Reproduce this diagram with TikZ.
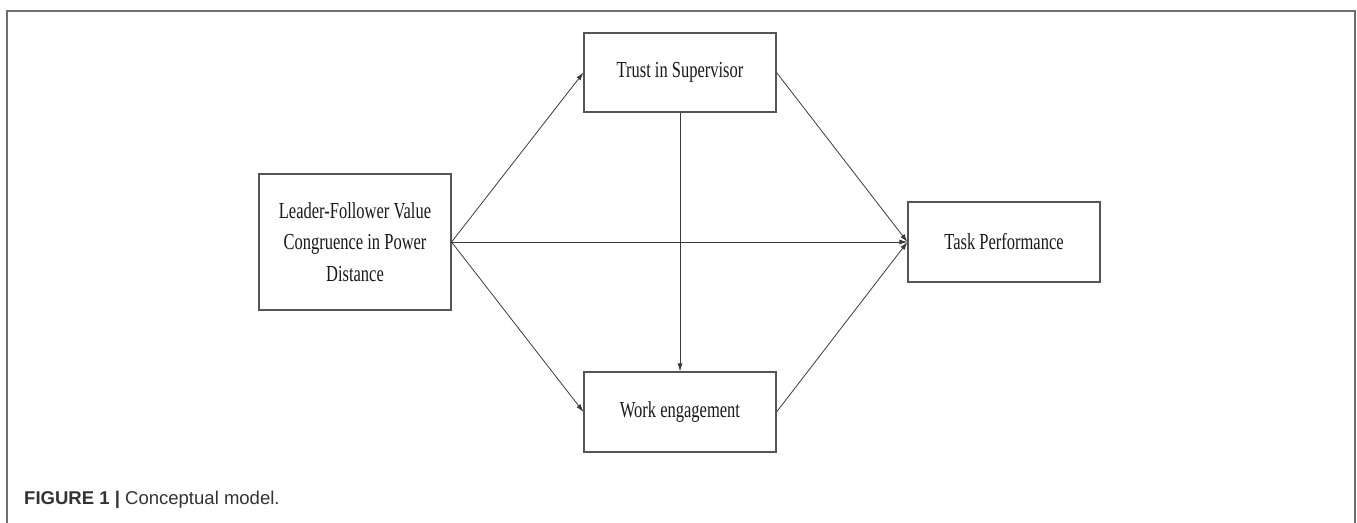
\documentclass[tikz,border=0pt]{standalone}
\usepackage{fontspec}
\setmainfont{Liberation Serif}
\newfontfamily\capfont{Liberation Sans}
\usetikzlibrary{arrows.meta}
\newcommand{\condtxt}[1]{\scalebox{0.72}[1]{#1}}
\definecolor{framegray}{HTML}{6E6E6E}
\definecolor{boxgray}{HTML}{555555}
\definecolor{linegray}{HTML}{3A3A3A}
\definecolor{captxt}{HTML}{333333}
\tikzset{
  mbox/.style={draw=boxgray, line width=1.1pt, fill=white, inner sep=2pt,
    minimum width=192bp, align=center, text=black!90, font=\fontsize{23}{31.5}\selectfont},
  conn/.style={draw=linegray, line width=0.8pt, -{Latex[length=8pt,width=5pt]}},
  outerframe/.style={draw=framegray, line width=1.6pt}
}
\begin{document}
\begin{tikzpicture}[x=1bp,y=-1bp]
\useasboundingbox (0,0) rectangle (1357,523);
\draw[outerframe] (7,523) -- (7,11) -- (1355,11) -- (1355,523);
\node[mbox, minimum height=136bp] (L) at (355,242)
  {\condtxt{Leader-Follower Value}\\\condtxt{Congruence in Power}\\\condtxt{Distance}};
\node[mbox, minimum height=79bp] (T) at (680,72.5) {\condtxt{Trust in Supervisor}};
\node[mbox, minimum height=80bp] (W) at (680,412) {\condtxt{Work engagement}};
\node[mbox, minimum height=80bp] (K) at (1004,242) {\condtxt{Task Performance}};
\draw[conn] (L.east) -- (T.west);
\draw[conn] (L.east) -- (K.west);
\draw[conn] (L.east) -- (W.west);
\draw[conn] (T.south) -- (W.north);
\draw[conn] (T.east) -- (K.west);
\draw[conn] (W.east) -- (K.west);
\node[anchor=base west, inner sep=0pt, text=captxt, font=\capfont\fontsize{18.6}{20}\selectfont] (cap) at (24,504)
  {\textbf{FIGURE 1 |} Conceptual model.};
\end{tikzpicture}
\end{document}
